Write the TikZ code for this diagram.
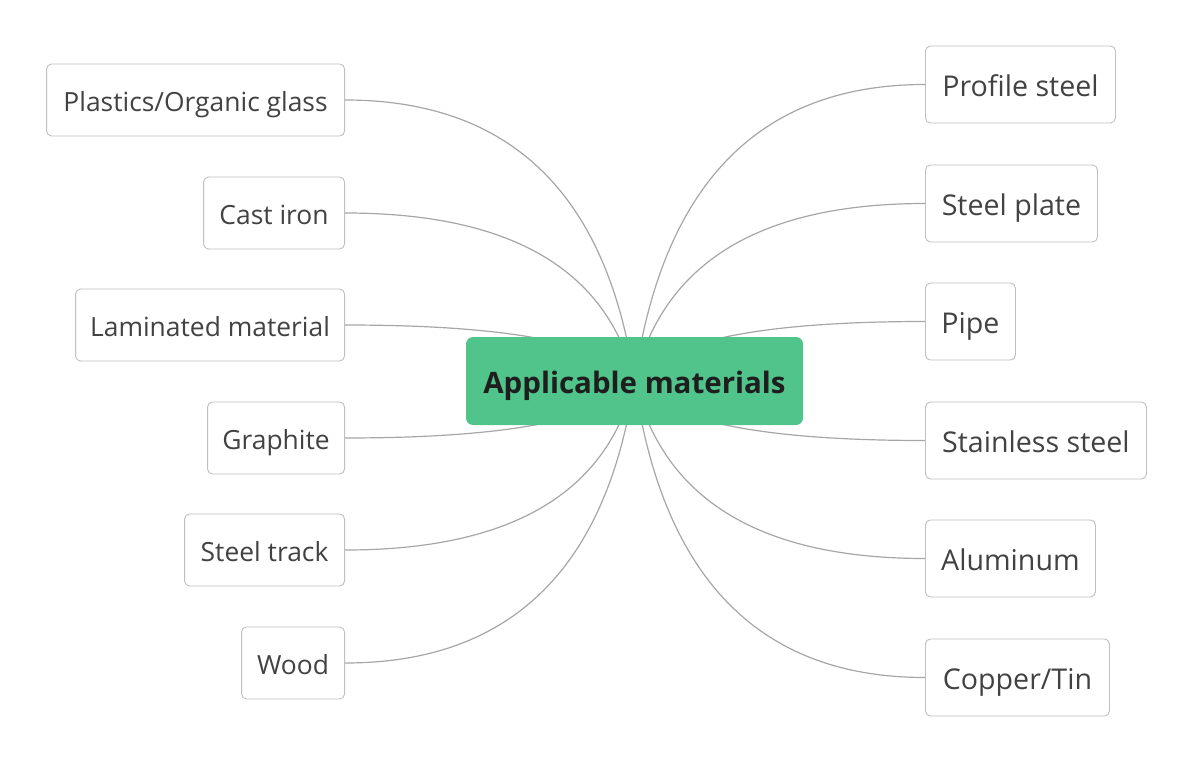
\documentclass[tikz,border=0pt]{standalone}
\usepackage{fontspec}
\setmainfont{Open Sans}
\usetikzlibrary{calc,backgrounds}
\definecolor{txtgray}{HTML}{424242}
\definecolor{boxborder}{HTML}{BFBFBF}
\definecolor{linkgray}{HTML}{A6A6A6}
\definecolor{mapgreen}{HTML}{50C48B}
\definecolor{roottxt}{HTML}{1E1E1E}
\begin{document}
\begin{tikzpicture}[x=1pt,y=-1pt,
  leftbox/.style={draw=boxborder, line width=0.9pt, rounded corners=5pt, fill=white, text=txtgray,
    font=\fontsize{26.4}{30}\selectfont, minimum height=72pt, inner sep=0pt, anchor=east,
    text height=24.5pt, text depth=2pt},
  rightbox/.style={draw=boxborder, line width=0.9pt, rounded corners=5pt, fill=white, text=txtgray,
    font=\fontsize{28.6}{32}\selectfont, minimum height=77pt, inner sep=0pt, anchor=west,
    text height=26pt, text depth=2pt},
  rootbox/.style={fill=mapgreen, rounded corners=7pt, minimum width=337pt, minimum height=88pt,
    inner sep=0pt, text=roottxt, font=\fontsize{29.5}{34}\selectfont\bfseries,
    text height=26pt, text depth=1.5pt},
  linkline/.style={draw=linkgray, line width=1.2pt}]
\useasboundingbox (0,0) rectangle (1198,767);
\node[rootbox] (root) at (634.5,381) {Applicable materials};
% left
\node[leftbox, minimum width=298pt] (pl) at (345,100) {Plastics/Organic glass};
\node[leftbox, minimum width=141pt] (ci) at (345,213) {Cast iron};
\node[leftbox, minimum width=269pt] (lm) at (345,325) {Laminated material};
\node[leftbox, minimum width=137pt] (gr) at (345,438) {Graphite};
\node[leftbox, minimum width=160pt] (st) at (345,550) {Steel track};
\node[leftbox, minimum width=103pt] (wd) at (345,663) {Wood};
% right
\node[rightbox, minimum width=190pt] (ps) at (925,84.5) {Profile steel};
\node[rightbox, minimum width=172pt] (sp) at (925,203.5) {Steel plate};
\node[rightbox, minimum width=90pt] (pi) at (925,321.5) {Pipe};
\node[rightbox, minimum width=221pt] (ss) at (925,440.5) {Stainless steel};
\node[rightbox, minimum width=170pt] (al) at (925,558.5) {Aluminum};
\node[rightbox, minimum width=184pt] (ct) at (925,677.5) {Copper/Tin};
\begin{scope}[on background layer]
\foreach \n in {pl,ci,lm,gr,st,wd}{
  \coordinate (q\n) at ($(\n.east)+(248,0)$);
  \draw[linkline] (\n.east) .. controls ($(\n.east)!2/3!(q\n)$) and ($(root.center)!2/3!(q\n)$) .. (root.center);
}
\foreach \n in {ps,sp,pi,ss,al,ct}{
  \coordinate (q\n) at ($(\n.west)+(-248,0)$);
  \draw[linkline] (\n.west) .. controls ($(\n.west)!2/3!(q\n)$) and ($(root.center)!2/3!(q\n)$) .. (root.center);
}
\end{scope}
\end{tikzpicture}
\end{document}
